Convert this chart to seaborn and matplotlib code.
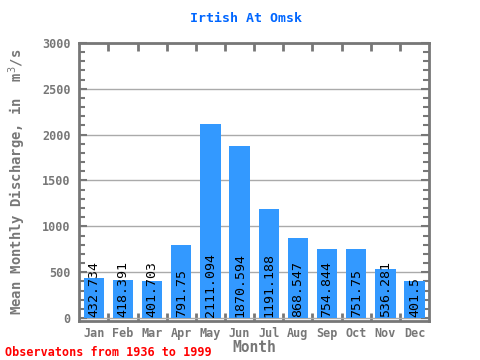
import matplotlib
matplotlib.use("Agg")
import matplotlib.pyplot as plt
import seaborn as sns
import pandas as pd
import numpy as np
from matplotlib.ticker import MultipleLocator, FixedLocator

months = ["Jan", "Feb", "Mar", "Apr", "May", "Jun", "Jul", "Aug", "Sep", "Oct", "Nov", "Dec"]
values = [432.734, 418.391, 401.703, 791.75, 2111.094, 1870.594, 1191.188, 868.547, 754.844, 751.75, 536.281, 401.5]
labels = ["432.734", "418.391", "401.703", "791.75", "2111.094", "1870.594", "1191.188", "868.547", "754.844", "751.75", "536.281", "401.5"]

sns.set_style("white")
plt.rcParams['font.family'] = ['DejaVu Sans Mono']

df = pd.DataFrame({"Month": months, "Value": values})
fig = plt.figure(figsize=(4.8, 3.6), dpi=100)
ax = fig.add_axes([0.165, 0.108, 0.729, 0.773])
sns.barplot(data=df, x="Month", y="Value", color="#3399ff", saturation=1, width=0.7,
            linewidth=0, edgecolor="none", ax=ax, zorder=2)

ax.set_xlim(-0.5, 11.5)
ax.set_ylim(-33, 3000)
gray = "#777777"
for s in ax.spines.values():
    s.set_color(gray)
    s.set_linewidth(2)
ax.yaxis.set_major_locator(MultipleLocator(500))
ax.yaxis.set_minor_locator(MultipleLocator(100))
ax.xaxis.set_major_locator(FixedLocator(range(12)))
ax.xaxis.set_minor_locator(FixedLocator(np.arange(0.5, 11.5, 1)))
ax.set_xticklabels(months)
ax.tick_params(axis='x', which='major', length=0, pad=4, labelsize=8.5, labelcolor=gray)
ax.tick_params(axis='x', which='minor', length=6, width=2, color=gray, direction='in', top=True, bottom=True)
ax.tick_params(axis='y', which='major', length=6, width=1.5, color=gray, direction='in', left=True, right=True, labelsize=8.5, labelcolor=gray, pad=6)
ax.tick_params(axis='y', which='minor', length=4, width=1.5, color=gray, direction='in', left=True, right=True)
for lab in ax.get_xticklabels() + ax.get_yticklabels():
    lab.set_fontweight('bold')
ax.yaxis.grid(True, which='major', color='#aaaaaa', linewidth=1, zorder=0)
ax.set_axisbelow(True)

for i, (v, t) in enumerate(zip(values, labels)):
    ax.text(i, 15, t, rotation=90, ha='center', va='bottom', fontsize=9.5, color='black', zorder=3)

ax.set_xlabel("Month", fontsize=10.5, fontweight='bold', color=gray, labelpad=0)
ax.set_ylabel("Mean Monthly Discharge, in  m$^{3}$/s", fontsize=10, fontweight='bold', color=gray, labelpad=10)
fig.text(0.5125, 0.95, "Irtish At Omsk", fontsize=9.5, fontweight='bold', color="#0066ff", ha='center', va='center')
fig.text(0.01, 0.012, "Observatons from 1936 to 1999", color="red", fontsize=8.5, fontweight='bold')

fig.savefig("out.png", dpi=100)
